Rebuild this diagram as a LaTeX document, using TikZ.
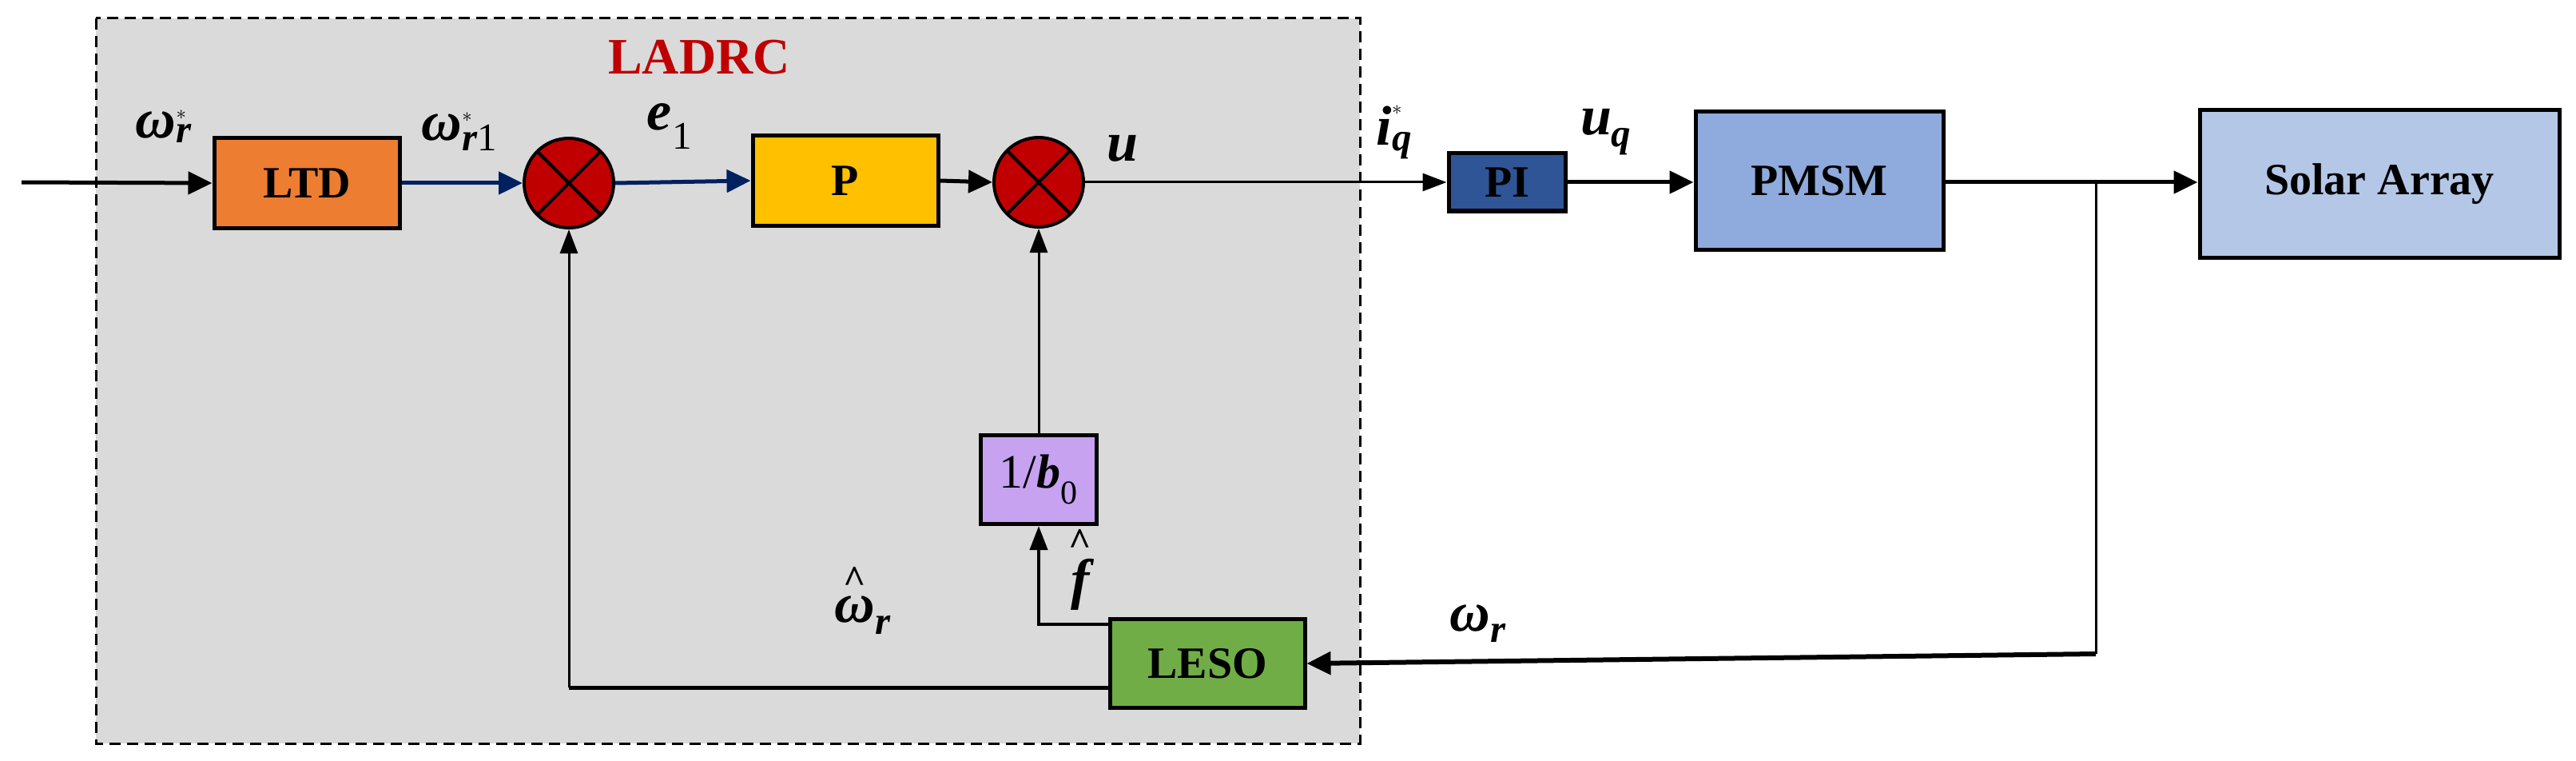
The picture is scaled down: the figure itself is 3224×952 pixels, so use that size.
\documentclass[tikz,border=0pt]{standalone}
\usepackage{amsmath}
\usepackage{fontspec}
\setmainfont{Liberation Serif}
\usetikzlibrary{arrows.meta}
\definecolor{cLTD}{HTML}{ED7D31}
\definecolor{cP}{HTML}{FFC000}
\definecolor{cSum}{HTML}{C00000}
\definecolor{cPI}{HTML}{2F5597}
\definecolor{cPM}{HTML}{8FAADC}
\definecolor{cSA}{HTML}{B4C7E7}
\definecolor{cLE}{HTML}{70AD47}
\definecolor{cB}{HTML}{C6A2F0}
\definecolor{cG}{HTML}{DADADA}
\definecolor{cNavy}{HTML}{002060}
\newcommand{\bi}[1]{\text{\bfseries\itshape #1}}
\newcommand{\bhat}[1]{\overset{\text{\bfseries\^{}}}{#1}}
\begin{document}
\begin{tikzpicture}[x=1pt,y=-1pt,
  blk/.style={draw=black,line width=5pt,minimum width=#1,font=\fontsize{56}{56}\selectfont\bfseries,inner sep=0pt},
  sum/.style={circle,draw=black,line width=4pt,fill=cSum,minimum size=112pt,inner sep=0pt,path picture={
     \draw[line width=4pt] (path picture bounding box.north west)--(path picture bounding box.south east)
       (path picture bounding box.north east)--(path picture bounding box.south west);}},
  arr/.style={line width=5pt,-{Triangle[length=30pt,width=28pt]}},
  thin/.style={line width=3pt},
  lab/.style={font=\fontsize{70}{70}\selectfont}]
\useasboundingbox (0,0) rectangle (3224,952);
\fill[cG] (120,23) rectangle (1702,930);
\draw[line width=3pt,dash pattern=on 14pt off 8pt] (120,23) rectangle (1702,930);
\node[text=cSum,font=\fontsize{64}{64}\selectfont\bfseries] (tl) at (875,72) {LADRC};
\coordinate (in) at (27,228);
\node[blk=232pt,minimum height=112pt,fill=cLTD] (ltd) at (384,229) {LTD};
\node[sum] (s1) at (712,229) {};
\node[blk=232pt,minimum height=112pt,fill=cP] (p) at (1058,226) {P};
\node[sum] (s2) at (1300,228) {};
\node[blk=146pt,minimum height=72pt,fill=cPI] (pi) at (1886,228) {PI};
\node[blk=310pt,minimum height=172pt,fill=cPM] (pm) at (2277,226) {PMSM};
\node[blk=450pt,minimum height=185pt,fill=cSA] (sa) at (2978,230) {Solar Array};
\node[blk=145pt,minimum height=111pt,fill=cB,font=\fontsize{60}{60}\selectfont] (b0) at (1300,600) {$\text{1/}\bi{b}_{\text{0}}$};
\node[blk=244pt,minimum height=111pt,fill=cLE] (le) at (1511,830) {LESO};
\coordinate (br) at (2623,228);
\coordinate (bd) at (2623,818);
\draw[arr] (in) -- (ltd.west);
\draw[arr,cNavy] (ltd.east) -- (s1.west);
\draw[arr,cNavy] (s1.east) -- (p.west);
\draw[arr] (p.east) -- (s2.west);
\draw[thin,-{Triangle[length=30pt,width=22pt]}] (s2.east) -- (pi.west);
\draw[arr] (pi.east) -- (pi.east-|pm.west);
\draw[arr] (pm.east|-br) -- (sa.west|-br);
\draw[thin] (br) -- (bd);
\draw[line width=6pt,-{Triangle[length=30pt,width=28pt]}] (bd) -- (le.east);
\draw[line width=5pt] (le.west|-0,860) -- (712,860);
\draw[thin,-{Triangle[length=30pt,width=22pt]}] (712,860) -- (s1.south);
\draw[thin,-{Triangle[length=30pt,width=22pt]}] (b0.north) -- (s2.south);
\draw[line width=4pt,-{Triangle[length=30pt,width=22pt]}] (le.west|-0,781) -- (1300,781) -- (b0.south);
\node[lab] (l1) at (205,158) {$\bi{ω}^{*}_{\bi{r}}$};
\node[lab] (l2) at (575,165) {$\bi{ω}^{*}_{\bi{r}\text{1}}$};
\node[lab] (l3) at (838,158) {$\bi{e}_{\text{1}}$};
\node[lab] (l4) at (1405,186) {$\bi{u}$};
\node[lab] (l5) at (1745,165) {$\bi{i}^{*}_{\bi{q}}$};
\node[lab] (l6) at (2010,165) {$\bi{u}_{\bi{q}}$};
\node[lab] (l7) at (1080,750) {$\bhat{\bi{ω}}_{\bi{r}}$};
\node[lab] (l8) at (1352,712) {$\bhat{\bi{f}}$};
\node[lab] (l9) at (1850,780) {$\bi{ω}_{\bi{r}}$};
\end{tikzpicture}
\end{document}
